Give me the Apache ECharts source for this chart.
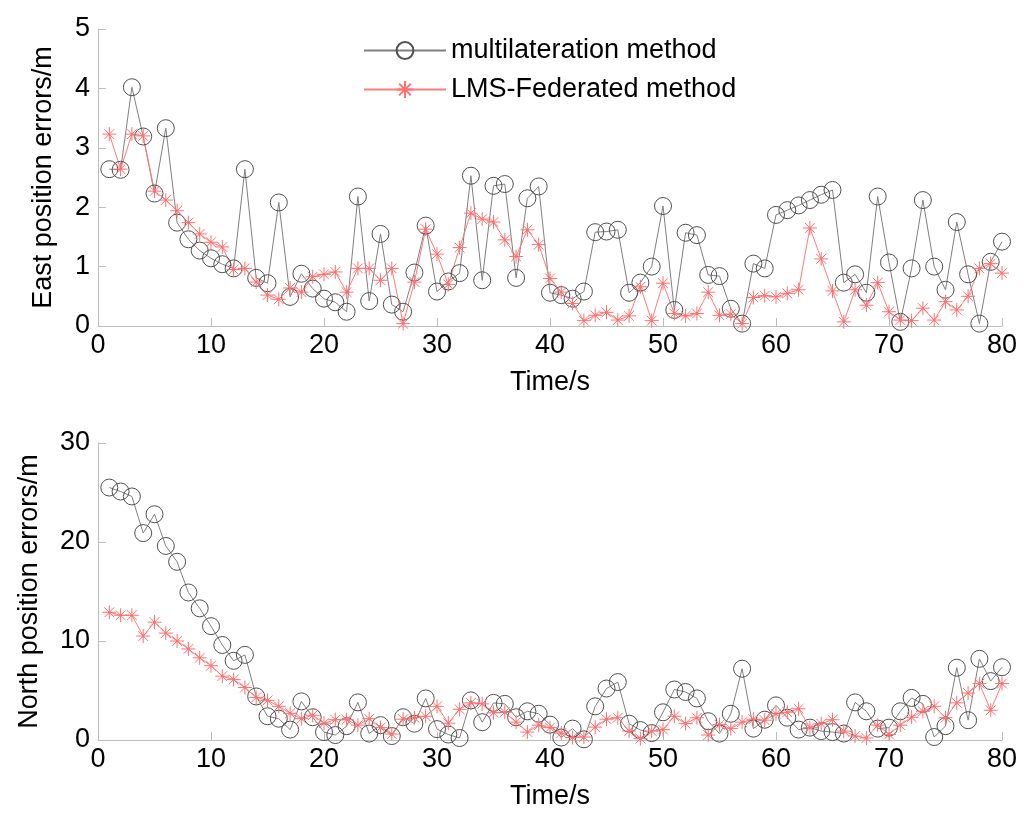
<!DOCTYPE html>
<html>
<head>
    <meta charset="utf-8">
    <title>Position errors</title>
    <script src="https://cdn.jsdelivr.net/npm/echarts@6.0.0/dist/echarts.min.js" charset="utf-8"></script>
</head>
<body style="margin:0;background-color:#ffffff">
<div id="main" style="width:1024px;height:820px"></div>
<script type="text/javascript">
    // time axis (s)
    var times = [1, 2, 3, 4, 5, 6, 7, 8, 9, 10, 11, 12, 13, 14, 15, 16, 17, 18, 19, 20,
        21, 22, 23, 24, 25, 26, 27, 28, 29, 30, 31, 32, 33, 34, 35, 36, 37, 38, 39, 40,
        41, 42, 43, 44, 45, 46, 47, 48, 49, 50, 51, 52, 53, 54, 55, 56, 57, 58, 59, 60,
        61, 62, 63, 64, 65, 66, 67, 68, 69, 70, 71, 72, 73, 74, 75, 76, 77, 78, 79, 80];

    var seriesNames = ['multilateration method', 'LMS-Federated method'];

    var eastMulti = [2.64, 2.63, 4.02, 3.19, 2.23, 3.33, 1.74, 1.46, 1.27, 1.14,
        1.04, 0.97, 2.64, 0.81, 0.72, 2.08, 0.49, 0.88, 0.63, 0.46,
        0.40, 0.24, 2.18, 0.42, 1.55, 0.36, 0.24, 0.90, 1.69, 0.58,
        0.75, 0.89, 2.53, 0.77, 2.36, 2.39, 0.81, 2.15, 2.35, 0.56,
        0.52, 0.46, 0.58, 1.58, 1.59, 1.62, 0.56, 0.73, 1.00, 2.02,
        0.27, 1.57, 1.53, 0.86, 0.84, 0.29, 0.04, 1.05, 0.97, 1.87,
        1.95, 2.03, 2.12, 2.21, 2.29, 0.73, 0.87, 0.56, 2.18, 1.07,
        0.07, 0.97, 2.12, 1.00, 0.61, 1.75, 0.87, 0.04, 1.08, 1.42];

    var eastLms = [3.23, 2.64, 3.23, 3.20, 2.27, 2.12, 1.94, 1.74, 1.55, 1.41,
        1.33, 0.95, 0.97, 0.74, 0.52, 0.45, 0.64, 0.57, 0.83, 0.87,
        0.91, 0.57, 0.97, 0.97, 0.77, 0.97, 0.04, 0.74, 1.63, 1.21,
        0.70, 1.32, 1.90, 1.80, 1.75, 1.45, 1.17, 1.62, 1.37, 0.80,
        0.57, 0.38, 0.09, 0.18, 0.23, 0.10, 0.17, 0.66, 0.09, 0.72,
        0.21, 0.17, 0.21, 0.57, 0.18, 0.20, 0.04, 0.48, 0.51, 0.49,
        0.55, 0.61, 1.65, 1.13, 0.59, 0.07, 0.61, 0.35, 0.73, 0.24,
        0.10, 0.09, 0.30, 0.10, 0.41, 0.27, 0.50, 0.97, 1.05, 0.89];

    var northMulti = [25.5, 25.1, 24.6, 20.9, 22.8, 19.6, 18.0, 14.9, 13.3, 11.5,
        9.6, 8.0, 8.6, 4.4, 2.4, 2.15, 1.05, 3.9, 2.3, 0.8,
        0.5, 1.4, 3.8, 0.65, 1.5, 0.4, 2.3, 1.65, 4.2, 1.1,
        0.55, 0.2, 4.0, 1.8, 3.75, 3.65, 2.3, 2.9, 2.65, 1.55,
        0.25, 1.15, 0.07, 3.4, 5.2, 5.85, 1.65, 1.0, 0.7, 2.8,
        5.1, 4.85, 4.2, 1.9, 0.65, 2.65, 7.2, 1.15, 2.05, 3.5,
        2.25, 1.05, 1.25, 0.9, 0.8, 0.65, 3.8, 2.9, 1.15, 1.25,
        2.9, 4.25, 3.65, 0.3, 1.4, 7.3, 2.0, 8.2, 5.95, 7.35];

    var northLms = [12.9, 12.6, 12.6, 10.5, 11.9, 10.8, 10.0, 9.2, 8.3, 7.5,
        6.45, 6.1, 5.3, 4.3, 4.0, 3.4, 2.7, 2.15, 2.5, 1.7,
        2.05, 2.05, 1.5, 2.15, 1.25, 0.6, 2.1, 2.25, 2.4, 3.4,
        1.7, 3.1, 3.75, 3.65, 2.75, 2.8, 1.8, 0.8, 1.5, 1.25,
        0.7, 0.25, 0.3, 1.3, 2.1, 2.25, 0.9, 0.14, 0.9, 1.05,
        2.4, 1.65, 2.25, 0.5, 1.55, 1.15, 1.8, 2.1, 2.0, 2.65,
        2.8, 3.15, 1.25, 1.65, 2.05, 0.9, 0.4, 0.2, 1.5, 0.57,
        1.5, 2.3, 2.9, 3.4, 2.25, 3.75, 4.75, 5.7, 3.0, 5.7];

    var FONT = 'Liberation Sans, Arial, sans-serif';
    // asterisk marker with a small filled centre
    var STAR = 'path://M0,5L10,5M5,0L5,10M1.5,1.5L8.5,8.5M1.5,8.5L8.5,1.5M4.5,4.5L5.5,4.5L5.5,5.5L4.5,5.5Z';

    function pairs(ys) {
        var out = [];
        for (var i = 0; i < ys.length; i++) {
            out.push([times[i], ys[i]]);
        }
        return out;
    }

    function xAxisCfg(idx) {
        return {
            type: 'value', gridIndex: idx, min: 0, max: 80, interval: 10,
            name: 'Time/s', nameLocation: 'middle', nameGap: 43,
            nameTextStyle: {color: '#000', fontSize: 27, fontFamily: FONT},
            axisLine: {lineStyle: {color: '#bdbdbd', width: 1}},
            axisTick: {inside: true, length: 8, lineStyle: {color: '#bdbdbd'}},
            axisLabel: {color: '#000', fontSize: 27, fontFamily: FONT, margin: 6},
            splitLine: {show: false}
        };
    }

    function yAxisCfg(idx, name, max, interval, gap) {
        return {
            type: 'value', gridIndex: idx, min: 0, max: max, interval: interval,
            name: name, nameLocation: 'middle', nameGap: gap,
            nameTextStyle: {color: '#000', fontSize: 27, fontFamily: FONT},
            axisLine: {show: true, lineStyle: {color: '#bdbdbd', width: 1}},
            axisTick: {show: true, inside: true, length: 8, lineStyle: {color: '#bdbdbd'}},
            axisLabel: {color: '#000', fontSize: 27, fontFamily: FONT, margin: 8},
            splitLine: {show: false}
        };
    }

    function multiSeries(idx, ys) {
        return {
            name: seriesNames[0], type: 'line', xAxisIndex: idx, yAxisIndex: idx,
            data: pairs(ys),
            symbol: 'circle', symbolSize: 17,
            lineStyle: {color: '#808080', width: 1},
            itemStyle: {color: 'rgba(0,0,0,0)', borderColor: '#505050', borderWidth: 1},
            animation: false
        };
    }

    function lmsSeries(idx, ys) {
        return {
            name: seriesNames[1], type: 'line', xAxisIndex: idx, yAxisIndex: idx,
            data: pairs(ys),
            symbol: STAR, symbolSize: 14,
            lineStyle: {color: '#ff7a7a', width: 1},
            itemStyle: {color: '#d00000', borderColor: '#ff7070', borderWidth: 1},
            animation: false
        };
    }

    var myChart = echarts.init(document.getElementById('main'));

    var option = {
        backgroundColor: '#fff',
        legend: {
            data: seriesNames,
            orient: 'vertical',
            left: 358, top: 32,
            itemWidth: 82, itemHeight: 21, itemGap: 12,
            textStyle: {color: '#000', fontSize: 27, fontFamily: FONT}
        },
        grid: [
            {left: 98, right: 22, top: 29, height: 297},
            {left: 98, right: 22, top: 443, height: 297}
        ],
        xAxis: [xAxisCfg(0), xAxisCfg(1)],
        yAxis: [
            yAxisCfg(0, 'East position errors/m', 5, 1, 41),
            yAxisCfg(1, 'North position errors/m', 30, 10, 55)
        ],
        series: [
            multiSeries(0, eastMulti),
            lmsSeries(0, eastLms),
            multiSeries(1, northMulti),
            lmsSeries(1, northLms)
        ]
    };

    myChart.setOption(option);
</script>
</body>
</html>
